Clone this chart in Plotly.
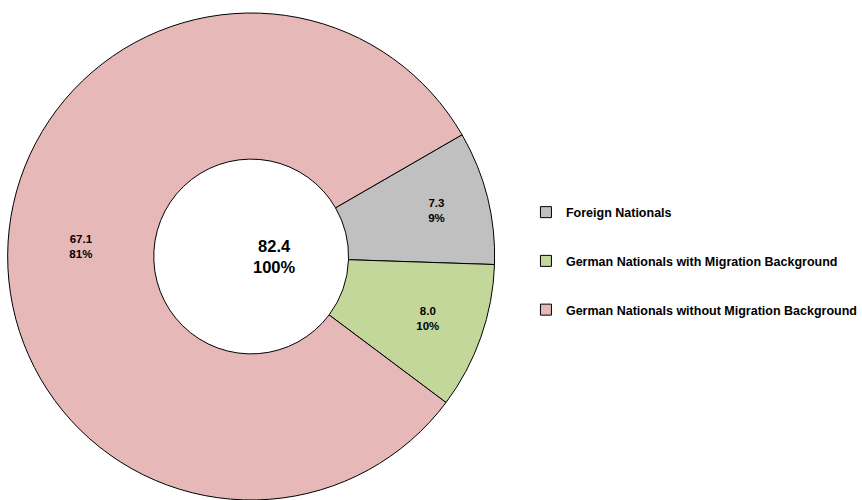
import plotly.graph_objects as go

labels = ["Foreign Nationals",
          "German Nationals with Migration Background",
          "German Nationals without Migration Background"]
values = [7.3, 8.0, 67.1]
colors = ["#c0c0c0", "#c4d79b", "#e6b8b7"]

total = sum(values)
FONT = "Liberation Sans, Arial, sans-serif"
CX = 255  # pie centre, px

fig = go.Figure()
fig.add_trace(go.Pie(
    labels=labels, values=values, sort=False, direction="clockwise",
    rotation=60, hole=0.40,
    marker=dict(colors=colors, line=dict(color="black", width=1)),
    texttemplate="<b>%{value:.1f}<br>%{percent:.0%}</b>",
    textposition="inside", insidetextorientation="horizontal",
    textfont=dict(family=FONT, size=11.5, color="black"),
    showlegend=False, hoverinfo="label+value+percent",
    domain=dict(x=[(CX - 252)/862, (CX + 252)/862], y=[0, 1]),
))

for lab, col in zip(labels, colors):
    fig.add_trace(go.Scatter(
        x=[None], y=[None], mode="markers", name=lab, legendgroup=lab,
        marker=dict(symbol="square", size=11, color=col,
                    line=dict(color="black", width=1)),
    ))

fig.add_annotation(
    x=CX/862, y=0.5, xref="paper", yref="paper",
    text="<b>%.1f<br>100%%</b>" % total, showarrow=False,
    font=dict(family=FONT, size=16.5, color="black"),
)

fig.update_layout(
    width=862, height=500,
    margin=dict(l=0, r=0, t=13, b=0),
    paper_bgcolor="white", plot_bgcolor="white",
    xaxis=dict(visible=False), yaxis=dict(visible=False),
    legend=dict(x=534/862, xanchor="left", y=(500-261)/487, yanchor="middle",
                font=dict(family=FONT, size=12.5, color="black", weight="bold"),
                tracegroupgap=29.5, bgcolor="rgba(0,0,0,0)"),
    font=dict(family=FONT),
)

fig.write_html("out.html", config={"displayModeBar": False},
               post_script="document.body.style.margin='0';")
